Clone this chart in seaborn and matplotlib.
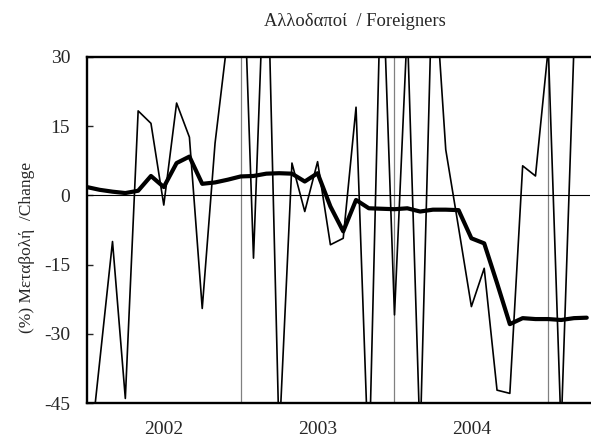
import numpy as np
import pandas as pd
import matplotlib
matplotlib.use('Agg')
import matplotlib.pyplot as plt
import seaborn as sns

# monthly % change, Jan 2002 - Apr 2005 (values beyond +/-45..30 are clipped off the chart)
monthly_change = [-62, -36, -10.0, -44.0, 18.3, 15.6, -2.1, 20.0, 12.6, -24.5,
                  11.3, 34.6, 68, -13.6, 62, -53, 7.0, -3.5, 7.3, -10.7,
                  -9.3, 19.1, -60, 54, -25.9, 36.5, -53.5, 52, 9.9, -7.0,
                  -24.1, -15.8, -42.2, -42.9, 6.4, 4.2, 32, -51, 32, 40]
# smoothed trend
trend_change = [1.8, 1.2, 0.8, 0.5, 1.0, 4.2, 1.8, 7.0, 8.4, 2.5,
                2.8, 3.4, 4.1, 4.2, 4.7, 4.8, 4.7, 3.0, 4.8, -2.4,
                -7.8, -1.0, -2.8, -2.9, -3.0, -2.8, -3.5, -3.1, -3.1, -3.2,
                -9.3, -10.4, -19.0, -27.9, -26.6, -26.8, -26.8, -27.0, -26.6, -26.5]
years = ['2002', '2003', '2004']
y_ticks = [-45, -30, -15, 0, 15, 30]

df = pd.DataFrame({'month': np.arange(len(monthly_change)),
                   'monthly': monthly_change,
                   'trend': trend_change})

sns.set_style('white')
plt.rcParams['font.family'] = ['Liberation Serif', 'DejaVu Serif']

fig, ax = plt.subplots(figsize=(5.91, 4.41), dpi=100)
fig.subplots_adjust(left=0.147, right=0.998, top=0.871, bottom=0.086)

# year separators and zero line
for b in [12, 24, 36]:
    ax.axvline(b, color='0.5', lw=0.9, zorder=1)
ax.axhline(0, color='black', lw=0.8, zorder=1)

sns.lineplot(data=df, x='month', y='monthly', color='black', lw=1.2, ax=ax, zorder=3)
sns.lineplot(data=df, x='month', y='trend', color='black', lw=3.0, ax=ax, zorder=4)

ax.set_xlim(0, 39.24)
ax.set_ylim(-45, 30)
ax.set_yticks(y_ticks)
ax.set_yticklabels([str(t) for t in y_ticks])
ax.set_xticks([6, 18, 30])
ax.set_xticklabels(years)
ax.tick_params(axis='y', direction='in', length=4, width=1, left=True, pad=12, labelsize=14)
ax.tick_params(axis='x', length=0, pad=13, labelsize=14)
ax.set_xlabel('')
ax.set_ylabel('')

for s in ['left', 'top', 'bottom']:
    ax.spines[s].set_color('black')
    ax.spines[s].set_linewidth(1.7)
ax.spines['right'].set_visible(False)

fig.text(355 / 591, 1 - 22 / 441, 'Αλλοδαποί  / Foreigners', ha='center', va='center', fontsize=13.3)
fig.text(27 / 591, 1 - 247 / 441, '(%) Μεταβολή  /Change', rotation=90,
         ha='center', va='center', fontsize=12.5)

fig.savefig('out.png', dpi=100)
